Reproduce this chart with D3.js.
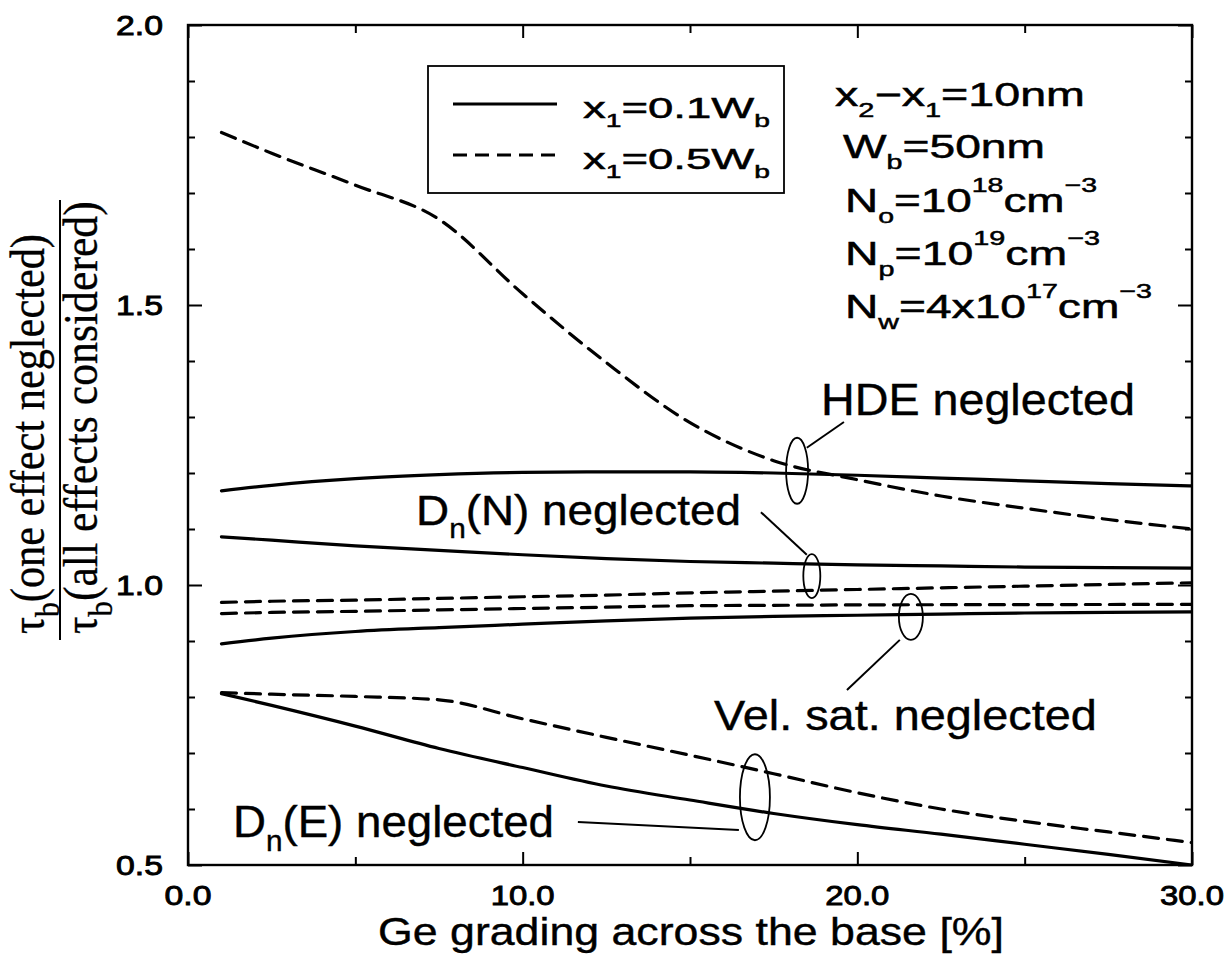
<!DOCTYPE html>
<html>
<head>
<meta charset="utf-8">
<script src="https://cdn.jsdelivr.net/npm/d3@7"></script>
<style>
  html, body { margin: 0; padding: 0; background: #fff; }
  svg { display: block; }
</style>
</head>
<body>
<div id="chart"></div>
<script>
// ---------------- data ----------------
const geGrading = [1, 2.5, 5, 7.5, 10, 12.5, 15, 17.5, 20, 22.5, 25, 27.5, 30];
// x1 = 0.1 Wb (solid) and x1 = 0.5 Wb (dashed)
const hdeX01  = [1.168, 1.178, 1.190, 1.197, 1.201, 1.202, 1.202, 1.200, 1.196, 1.191, 1.186, 1.181, 1.177];
const hdeX05  = [1.808, 1.771, 1.714, 1.653, 1.520, 1.397, 1.290, 1.222, 1.188, 1.159, 1.137, 1.117, 1.100];
const dnNX01  = [1.086, 1.080, 1.070, 1.062, 1.054, 1.047, 1.042, 1.039, 1.036, 1.034, 1.032, 1.031, 1.030];
const dnNX05  = [0.969, 0.971, 0.973, 0.976, 0.979, 0.982, 0.986, 0.989, 0.992, 0.995, 0.998, 1.001, 1.004];
const velX01  = [0.895, 0.905, 0.917, 0.924, 0.930, 0.936, 0.941, 0.944, 0.946, 0.948, 0.950, 0.951, 0.952];
const velX05  = [0.949, 0.951, 0.953, 0.9555, 0.958, 0.9605, 0.963, 0.9637, 0.9645, 0.9648, 0.965, 0.9652, 0.9655];
const dnEX01  = [0.806, 0.785, 0.748, 0.708, 0.674, 0.641, 0.616, 0.592, 0.572, 0.555, 0.537, 0.519, 0.500];
const dnEX05  = [0.808, 0.805, 0.801, 0.795, 0.761, 0.728, 0.696, 0.663, 0.629, 0.600, 0.578, 0.559, 0.540];

const xMajorTicks = [0, 10, 20, 30];
const xMinorTicks = [5, 15, 25];
const yMajorTicks = [0.5, 1.0, 1.5, 2.0];
const yMinorTicks = [0.6, 0.7, 0.8, 0.9, 1.1, 1.2, 1.3, 1.4, 1.6, 1.7, 1.8, 1.9];
const xTickLabels = ["0.0", "10.0", "20.0", "30.0"];
const yTickLabels = ["0.5", "1.0", "1.5", "2.0"];

// annotation ellipses (data coords of centre, pixel radii) and leader lines (data coords)
const ellipses = [
  { cx: 18.2, cy: 1.204, rx: 11, ry: 33 },   // HDE
  { cx: 18.64, cy: 1.016, rx: 8.5, ry: 22 }, // Dn(N)
  { cx: 21.6, cy: 0.943, rx: 12, ry: 23 },   // Vel. sat.
  { cx: 16.94, cy: 0.621, rx: 15, ry: 43 }   // Dn(E)
];
const leaders = [
  [[19.6, 1.291], [18.49, 1.245]],
  [[17.12, 1.130], [18.49, 1.054]],
  [[21.27, 0.902], [19.69, 0.8125]],
  [[11.65, 0.577], [16.46, 0.5625]]
];

// ---------------- setup ----------------
const W = 1230, H = 955;
const svg = d3.select("#chart").append("svg").attr("width", W).attr("height", H);
const x = d3.scaleLinear().domain([0, 30]).range([188, 1192]);
const y = d3.scaleLinear().domain([0.5, 2.0]).range([865, 25]);

const SANS = "'Liberation Sans', Arial, Helvetica, sans-serif";
const SERIF = "'Liberation Serif', 'Times New Roman', serif";

// text helper: parts with sub/superscripts, stretched to a target width
function stext(parent, o) {
  const g = parent.append("g");
  const t = g.append("text").attr("font-family", o.family || SANS)
    .attr("font-size", o.size).attr("fill", "#000");
  if (o.stroke) t.attr("stroke", "#000").attr("stroke-width", o.stroke);
  let cur = 0;
  o.parts.forEach(p => {
    const shift = p.sub ? o.size * 0.32 : p.sup ? -o.size * 0.62 : 0;
    const fs = (p.sub || p.sup) ? o.size * (p.scale || 0.62) : o.size;
    t.append("tspan").attr("dy", shift - cur).attr("font-size", fs).text(p.t);
    cur = shift;
  });
  const bb = t.node().getBBox();
  const w = bb.width;
  const sx = o.width ? o.width / w : 1;
  let off = -bb.x;
  if (o.anchor === "end") off = -bb.x - w;
  if (o.anchor === "middle") off = -bb.x - w / 2;
  t.attr("x", off);
  g.attr("transform", `translate(${o.x},${o.y}) rotate(${o.rotate || 0}) scale(${sx},${o.sy || 1})`);
  return g;
}

// ---------------- axes ----------------
const axisG = svg.append("g");
function ax(gen, tr) {
  const g = axisG.append("g").attr("transform", tr).call(gen);
  g.select(".domain").remove();
  g.selectAll("line").attr("stroke", "#000").attr("stroke-width", 2);
}
ax(d3.axisBottom(x).tickValues(xMajorTicks).tickSize(-13).tickFormat(""), "translate(0,865)");
ax(d3.axisBottom(x).tickValues(xMinorTicks).tickSize(-8).tickFormat(""), "translate(0,865)");
ax(d3.axisTop(x).tickValues(xMajorTicks).tickSize(-13).tickFormat(""), "translate(0,25)");
ax(d3.axisTop(x).tickValues(xMinorTicks).tickSize(-8).tickFormat(""), "translate(0,25)");
ax(d3.axisLeft(y).tickValues(yMajorTicks).tickSize(-14).tickFormat(""), "translate(188,0)");
ax(d3.axisLeft(y).tickValues(yMinorTicks).tickSize(-7).tickFormat(""), "translate(188,0)");
ax(d3.axisRight(y).tickValues(yMajorTicks).tickSize(-14).tickFormat(""), "translate(1192,0)");
ax(d3.axisRight(y).tickValues(yMinorTicks).tickSize(-7).tickFormat(""), "translate(1192,0)");

svg.append("rect").attr("x", x(0)).attr("y", y(2.0))
  .attr("width", x(30) - x(0)).attr("height", y(0.5) - y(2.0))
  .attr("fill", "none").attr("stroke", "#000").attr("stroke-width", 2.4);

// tick labels
xMajorTicks.forEach((v, i) => {
  stext(svg, { x: x(v), y: 905, parts: [{ t: xTickLabels[i] }], size: 28, stroke: 0.9,
    width: xTickLabels[i].length === 3 ? 47 : 64, anchor: "middle" });
});
yMajorTicks.forEach((v, i) => {
  stext(svg, { x: 163, y: y(v) + 10, parts: [{ t: yTickLabels[i] }], size: 28, stroke: 0.9, width: 47, anchor: "end" });
});

// axis titles
stext(svg, { x: 378, y: 945, parts: [{ t: "Ge grading across the base [%]" }], size: 39, width: 626, stroke: 0.4 });

stext(svg, { x: 44, y: 634, rotate: -90, family: SERIF, size: 40, width: 400, sy: 1.2, stroke: 0.3,
  parts: [{ t: "τ" }, { t: "b", sub: true, scale: 0.7 }, { t: "(one effect neglected)" }] });
stext(svg, { x: 97, y: 634, rotate: -90, family: SERIF, size: 40, width: 433, sy: 1.2, stroke: 0.3,
  parts: [{ t: "τ" }, { t: "b", sub: true, scale: 0.7 }, { t: "(all effects considered)" }] });
svg.append("line").attr("x1", 60).attr("x2", 60).attr("y1", 200).attr("y2", 640)
  .attr("stroke", "#000").attr("stroke-width", 2);

// ---------------- curves ----------------
const line = d3.line().x(d => x(d[0])).y(d => y(d[1])).curve(d3.curveMonotoneX);
const series = [
  { v: hdeX01, dashed: false }, { v: hdeX05, dashed: true },
  { v: dnNX01, dashed: false }, { v: dnNX05, dashed: true },
  { v: velX01, dashed: false }, { v: velX05, dashed: true },
  { v: dnEX01, dashed: false }, { v: dnEX05, dashed: true }
];
svg.append("clipPath").attr("id", "plotclip").append("rect")
  .attr("x", x(0)).attr("y", y(2.0) - 2).attr("width", x(30) - x(0)).attr("height", y(0.5) - y(2.0) + 2);
svg.append("g").attr("clip-path", "url(#plotclip)").selectAll("path").data(series).join("path")
  .attr("d", s => line(geGrading.map((g, i) => [g, s.v[i]])))
  .attr("fill", "none").attr("stroke", "#000").attr("stroke-width", 3.2)
  .attr("stroke-linecap", "round").attr("stroke-linejoin", "round")
  .attr("stroke-dasharray", s => s.dashed ? "15,9" : null);

// ---------------- annotations ----------------
svg.append("g").selectAll("ellipse").data(ellipses).join("ellipse")
  .attr("cx", d => x(d.cx)).attr("cy", d => y(d.cy)).attr("rx", d => d.rx).attr("ry", d => d.ry)
  .attr("fill", "none").attr("stroke", "#000").attr("stroke-width", 1.8);
svg.append("g").selectAll("line").data(leaders).join("line")
  .attr("x1", d => x(d[0][0])).attr("y1", d => y(d[0][1]))
  .attr("x2", d => x(d[1][0])).attr("y2", d => y(d[1][1]))
  .attr("stroke", "#000").attr("stroke-width", 2);

stext(svg, { x: 821, y: 415, parts: [{ t: "HDE neglected" }], size: 45, width: 314, stroke: 0.4 });
stext(svg, { x: 416, y: 525, parts: [{ t: "D" }, { t: "n", sub: true, scale: 0.65 }, { t: "(N) neglected" }], size: 42, width: 325, stroke: 0.4 });
stext(svg, { x: 714, y: 730, parts: [{ t: "Vel. sat. neglected" }], size: 42, width: 383, stroke: 0.4 });
stext(svg, { x: 233, y: 837, parts: [{ t: "D" }, { t: "n", sub: true, scale: 0.65 }, { t: "(E) neglected" }], size: 44, width: 321, stroke: 0.4 });

// ---------------- legend ----------------
svg.append("rect").attr("x", 428).attr("y", 66).attr("width", 356).attr("height", 127)
  .attr("fill", "#fff").attr("stroke", "#000").attr("stroke-width", 1.8);
[{ dashed: false, yy: 104, lab: "0.1" }, { dashed: true, yy: 155, lab: "0.5" }].forEach(l => {
  svg.append("line").attr("x1", 453).attr("x2", 557).attr("y1", l.yy).attr("y2", l.yy)
    .attr("stroke", "#000").attr("stroke-width", 3.2).attr("stroke-dasharray", l.dashed ? "14,8" : null);
  stext(svg, { x: 583, y: l.yy + 14, size: 29, width: 187, stroke: 0.5,
    parts: [{ t: "x" }, { t: "1", sub: true }, { t: "=" + l.lab + "W" }, { t: "b", sub: true }] });
});

// ---------------- parameter block ----------------
const P = 33;
stext(svg, { x: 835, y: 106, size: P, width: 250, stroke: 0.5,
  parts: [{ t: "x" }, { t: "2", sub: true }, { t: "−x" }, { t: "1", sub: true }, { t: "=10nm" }] });
stext(svg, { x: 843, y: 158, size: P, width: 202, stroke: 0.5,
  parts: [{ t: "W" }, { t: "b", sub: true }, { t: "=50nm" }] });
stext(svg, { x: 845, y: 212, size: P, width: 252, stroke: 0.5,
  parts: [{ t: "N" }, { t: "o", sub: true }, { t: "=10" }, { t: "18", sup: true }, { t: "cm" }, { t: "−3", sup: true }] });
stext(svg, { x: 845, y: 265, size: P, width: 255, stroke: 0.5,
  parts: [{ t: "N" }, { t: "p", sub: true }, { t: "=10" }, { t: "19", sup: true }, { t: "cm" }, { t: "−3", sup: true }] });
stext(svg, { x: 845, y: 318, size: P, width: 307, stroke: 0.5,
  parts: [{ t: "N" }, { t: "w", sub: true }, { t: "=4x10" }, { t: "17", sup: true }, { t: "cm" }, { t: "−3", sup: true }] });
</script>
</body>
</html>
